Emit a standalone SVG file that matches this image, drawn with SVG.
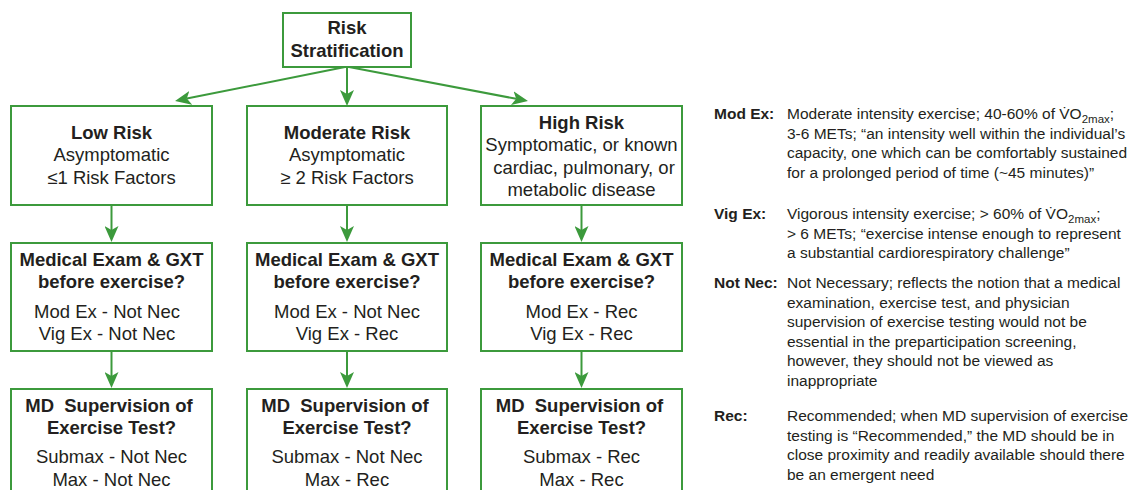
<svg xmlns="http://www.w3.org/2000/svg" width="1141" height="490" viewBox="0 0 1141 490">
<style>
  .box{fill:#fff;stroke:#3c9a3c;stroke-width:2}
  .con{stroke:#3c9a3c;stroke-width:2;fill:none}
  text{font-family:"Liberation Sans",Arial,sans-serif;fill:#231f20}
  .t{font-size:18.5px;text-anchor:middle}
  .b{font-weight:bold}
  .lg{font-size:15.5px}
  .sub{font-size:11.5px}
  .pre{white-space:pre}
</style>
<defs>
  <marker id="ah" markerUnits="userSpaceOnUse" viewBox="-4 -7 16 14" markerWidth="16" markerHeight="14" refX="0" refY="0" orient="auto">
    <path d="M12,0 L-4,-7 L0,0 L-4,7 Z" fill="#3c9a3c"/>
  </marker>
</defs>
<rect width="1141" height="490" fill="#fff"/>

<g id="connectors">
  <line class="con" x1="345" y1="67" x2="186.8" y2="98.6" marker-end="url(#ah)"/>
  <line class="con" x1="347" y1="67" x2="347" y2="94" marker-end="url(#ah)"/>
  <line class="con" x1="349" y1="67" x2="516.2" y2="98.8" marker-end="url(#ah)"/>
  <line class="con" x1="111.5" y1="205" x2="111.5" y2="230" marker-end="url(#ah)"/>
  <line class="con" x1="347" y1="205" x2="347" y2="230" marker-end="url(#ah)"/>
  <line class="con" x1="581.5" y1="205" x2="581.5" y2="230" marker-end="url(#ah)"/>
  <line class="con" x1="111.5" y1="351" x2="111.5" y2="376" marker-end="url(#ah)"/>
  <line class="con" x1="347" y1="351" x2="347" y2="376" marker-end="url(#ah)"/>
  <line class="con" x1="581.5" y1="351" x2="581.5" y2="376" marker-end="url(#ah)"/>
</g>

<g id="risk-stratification">
  <rect class="box" x="283" y="13" width="128" height="54"/>
  <text class="t b" x="347" y="34">Risk</text>
  <text class="t b" x="347" y="57">Stratification</text>
</g>

<g id="low-risk">
  <rect class="box" x="11" y="106" width="201" height="99"/>
  <text class="t b" x="111.5" y="139">Low Risk</text>
  <text class="t" x="111.5" y="161.3">Asymptomatic</text>
  <text class="t" x="111.5" y="183.6">≤1 Risk Factors</text>
</g>
<g id="moderate-risk">
  <rect class="box" x="247" y="106" width="200" height="99"/>
  <text class="t b" x="347" y="139">Moderate Risk</text>
  <text class="t" x="347" y="161.3">Asymptomatic</text>
  <text class="t" x="347" y="183.6">≥ 2 Risk Factors</text>
</g>
<g id="high-risk">
  <rect class="box" x="481" y="106" width="201" height="99"/>
  <text class="t b" x="581.5" y="129">High Risk</text>
  <text class="t" x="581.5" y="151.3">Symptomatic, or known</text>
  <text class="t" x="584" y="173.6">cardiac, pulmonary, or</text>
  <text class="t" x="581.5" y="195.9">metabolic disease</text>
</g>

<g id="low-exam">
  <rect class="box" x="11" y="243" width="201" height="108"/>
  <text class="t b" x="111.5" y="266">Medical Exam &amp; GXT</text>
  <text class="t b" x="111.5" y="288.3">before exercise?</text>
  <text class="t" x="107" y="317.7">Mod Ex - Not Nec</text>
  <text class="t" x="107" y="340">Vig Ex - Not Nec</text>
</g>
<g id="moderate-exam">
  <rect class="box" x="247" y="243" width="200" height="108"/>
  <text class="t b" x="347" y="266">Medical Exam &amp; GXT</text>
  <text class="t b" x="347" y="288.3">before exercise?</text>
  <text class="t" x="347" y="317.7">Mod Ex - Not Nec</text>
  <text class="t" x="347" y="340">Vig Ex - Rec</text>
</g>
<g id="high-exam">
  <rect class="box" x="481" y="243" width="201" height="108"/>
  <text class="t b" x="581.5" y="266">Medical Exam &amp; GXT</text>
  <text class="t b" x="581.5" y="288.3">before exercise?</text>
  <text class="t" x="581.5" y="317.7">Mod Ex - Rec</text>
  <text class="t" x="581.5" y="340">Vig Ex - Rec</text>
</g>

<g id="low-md">
  <rect class="box" x="11" y="389" width="201" height="120"/>
  <text class="t b pre" x="109" y="411.7">MD  Supervision of</text>
  <text class="t b" x="111.5" y="434">Exercise Test?</text>
  <text class="t" x="111.5" y="463.3">Submax - Not Nec</text>
  <text class="t" x="111.5" y="485.7">Max - Not Nec</text>
</g>
<g id="moderate-md">
  <rect class="box" x="247" y="389" width="200" height="120"/>
  <text class="t b pre" x="345" y="411.7">MD  Supervision of</text>
  <text class="t b" x="347" y="434">Exercise Test?</text>
  <text class="t" x="347" y="463.3">Submax - Not Nec</text>
  <text class="t" x="347" y="485.7">Max - Rec</text>
</g>
<g id="high-md">
  <rect class="box" x="481" y="389" width="201" height="120"/>
  <text class="t b pre" x="579.5" y="411.7">MD  Supervision of</text>
  <text class="t b" x="581.5" y="434">Exercise Test?</text>
  <text class="t" x="581.5" y="463.3">Submax - Rec</text>
  <text class="t" x="581.5" y="485.7">Max - Rec</text>
</g>

<g id="legend">
  <text class="lg b" x="714" y="119">Mod Ex:</text>
  <text class="lg" x="787" y="119">Moderate intensity exercise; 40-60% of V̇O<tspan class="sub" dy="4">2max</tspan><tspan dy="-4">;</tspan></text>
  <text class="lg" x="787" y="138.5">3-6 METs; “an intensity well within the individual’s</text>
  <text class="lg" x="787" y="158">capacity, one which can be comfortably sustained</text>
  <text class="lg" x="787" y="177.5">for a prolonged period of time (~45 minutes)”</text>

  <text class="lg b" x="714" y="219">Vig Ex:</text>
  <text class="lg" x="787" y="219">Vigorous intensity exercise; &gt; 60% of V̇O<tspan class="sub" dy="4">2max</tspan><tspan dy="-4">;</tspan></text>
  <text class="lg" x="787" y="238.5">&gt; 6 METs; “exercise intense enough to represent</text>
  <text class="lg" x="787" y="258">a substantial cardiorespiratory challenge”</text>

  <text class="lg b" x="714" y="288">Not Nec:</text>
  <text class="lg" x="787" y="288">Not Necessary; reflects the notion that a medical</text>
  <text class="lg" x="787" y="307.5">examination, exercise test, and physician</text>
  <text class="lg" x="787" y="327">supervision of exercise testing would not be</text>
  <text class="lg" x="787" y="346.5">essential in the preparticipation screening,</text>
  <text class="lg" x="787" y="366">however, they should not be viewed as</text>
  <text class="lg" x="787" y="385.5">inappropriate</text>

  <text class="lg b" x="714" y="421">Rec:</text>
  <text class="lg" x="787" y="421">Recommended; when MD supervision of exercise</text>
  <text class="lg" x="787" y="440.5">testing is “Recommended,” the MD should be in</text>
  <text class="lg" x="787" y="460">close proximity and readily available should there</text>
  <text class="lg" x="787" y="479.5">be an emergent need</text>
</g>
</svg>
